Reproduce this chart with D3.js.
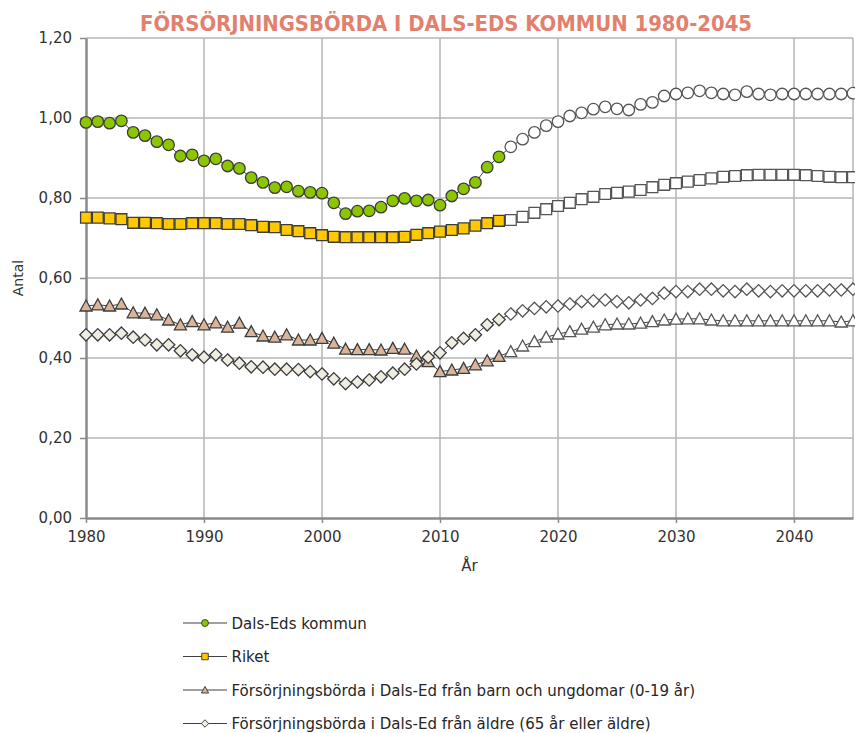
<!DOCTYPE html>
<html>
<head>
<meta charset="utf-8">
<script src="https://cdn.jsdelivr.net/npm/d3@7"></script>
<style>
  body { margin: 0; background: #fff; }
  svg { display: block; font-family: "DejaVu Sans", sans-serif; }
</style>
</head>
<body>
<div id="chart"></div>
<script>
(function () {
    // data
    var years = d3.range(1980, 2046);
    var lastObserved = 2015;

    var dalsEd = [
        0.989, 0.991, 0.987, 0.993, 0.964, 0.956, 0.941, 0.933, 0.905, 0.908,
        0.893, 0.898, 0.880, 0.874, 0.851, 0.839, 0.826, 0.828, 0.817, 0.814,
        0.812, 0.788, 0.761, 0.767, 0.768, 0.777, 0.793, 0.799, 0.793, 0.795,
        0.782, 0.805, 0.823, 0.839, 0.877, 0.903, 0.928, 0.947, 0.964, 0.981,
        0.991, 1.005, 1.013, 1.022, 1.028, 1.023, 1.020, 1.034, 1.039, 1.055,
        1.060, 1.063, 1.068, 1.063, 1.060, 1.058, 1.066, 1.060, 1.058, 1.060,
        1.060, 1.060, 1.060, 1.060, 1.060, 1.062
    ];
    var riket = [
        0.751, 0.751, 0.749, 0.747, 0.738, 0.738, 0.737, 0.735, 0.735, 0.737,
        0.737, 0.737, 0.735, 0.735, 0.732, 0.728, 0.727, 0.720, 0.717, 0.712,
        0.707, 0.703, 0.702, 0.702, 0.702, 0.702, 0.702, 0.703, 0.708, 0.712,
        0.716, 0.720, 0.724, 0.731, 0.737, 0.743, 0.745, 0.753, 0.763, 0.772,
        0.780, 0.788, 0.797, 0.803, 0.810, 0.813, 0.816, 0.820, 0.827, 0.833,
        0.837, 0.841, 0.845, 0.849, 0.853, 0.855, 0.857, 0.858, 0.858, 0.858,
        0.858, 0.857, 0.855, 0.853, 0.852, 0.852
    ];
    var barnUngdom = [
        0.530, 0.533, 0.530, 0.535, 0.513, 0.512, 0.508, 0.495, 0.483, 0.491,
        0.483, 0.488, 0.477, 0.487, 0.466, 0.455, 0.452, 0.458, 0.445, 0.445,
        0.449, 0.437, 0.422, 0.421, 0.421, 0.420, 0.424, 0.422, 0.405, 0.391,
        0.366, 0.370, 0.374, 0.383, 0.393, 0.404, 0.416, 0.430, 0.441, 0.452,
        0.460, 0.466, 0.472, 0.477, 0.483, 0.485, 0.485, 0.487, 0.491, 0.495,
        0.497, 0.498, 0.498, 0.495, 0.493, 0.493, 0.493, 0.493, 0.493, 0.493,
        0.493, 0.493, 0.493, 0.493, 0.490, 0.493
    ];
    var aldre = [
        0.458, 0.458, 0.458, 0.462, 0.452, 0.445, 0.433, 0.433, 0.418, 0.408,
        0.402, 0.408, 0.395, 0.387, 0.378, 0.377, 0.372, 0.372, 0.371, 0.366,
        0.360, 0.348, 0.336, 0.340, 0.345, 0.353, 0.362, 0.372, 0.385, 0.402,
        0.413, 0.438, 0.449, 0.458, 0.483, 0.496, 0.510, 0.518, 0.524, 0.528,
        0.530, 0.535, 0.541, 0.543, 0.545, 0.541, 0.538, 0.545, 0.549, 0.562,
        0.566, 0.566, 0.572, 0.572, 0.568, 0.566, 0.572, 0.568, 0.566, 0.568,
        0.568, 0.568, 0.568, 0.570, 0.570, 0.572
    ];

    var xTicks = [1980, 1990, 2000, 2010, 2020, 2030, 2040];
    var yTicks = [0, 0.2, 0.4, 0.6, 0.8, 1.0, 1.2];
    var seriesNames = [
        "Dals-Eds kommun",
        "Riket",
        "Försörjningsbörda i Dals-Ed från barn och ungdomar (0-19 år)",
        "Försörjningsbörda i Dals-Ed från äldre (65 år eller äldre)"
    ];

    var series = [
        { name: seriesNames[0], values: dalsEd, fill: "#8cc600", shape: "circle" },
        { name: seriesNames[1], values: riket, fill: "#ffc800", shape: "square" },
        { name: seriesNames[2], values: barnUngdom, fill: "#d9b49a", shape: "triangle" },
        { name: seriesNames[3], values: aldre, fill: "#efece2", shape: "diamond" }
    ];

    // dimensions
    var W = 855, H = 733;
    var margin = { top: 38, right: 2, bottom: 215, left: 86 },
        width = W - margin.left - margin.right,
        height = H - margin.top - margin.bottom;

    var svg = d3.select("#chart")
        .append("svg")
        .attr("width", W)
        .attr("height", H);

    var g = svg.append("g")
        .attr("transform", "translate(" + margin.left + "," + margin.top + ")");

    var x = d3.scaleLinear().domain([1980, 2045]).range([0, width]);
    var y = d3.scaleLinear().domain([0, 1.2]).range([height, 0]);

    // title
    svg.append("text")
        .attr("x", 446)
        .attr("y", 31)
        .attr("text-anchor", "middle")
        .style("font-family", "'DejaVu Sans Condensed', 'DejaVu Sans', sans-serif")
        .style("font-stretch", "condensed")
        .style("font-weight", "bold")
        .style("font-size", "21px")
        .attr("textLength", 612)
        .attr("lengthAdjust", "spacingAndGlyphs")
        .attr("fill", "#e2806e")
        .text("FÖRSÖRJNINGSBÖRDA I DALS-EDS KOMMUN 1980-2045");

    // gridlines
    g.append("g")
        .selectAll("line")
        .data(yTicks.slice(1))
        .enter().append("line")
        .attr("x1", 0).attr("x2", width)
        .attr("y1", function (d) { return y(d); })
        .attr("y2", function (d) { return y(d); })
        .attr("stroke", "#b4b4b4")
        .attr("stroke-width", 1.5);

    g.append("g")
        .selectAll("line")
        .data(xTicks.slice(1).concat([2045]))
        .enter().append("line")
        .attr("x1", function (d) { return x(d); })
        .attr("x2", function (d) { return x(d); })
        .attr("y1", 0).attr("y2", height)
        .attr("stroke", "#b4b4b4")
        .attr("stroke-width", 1.5);

    // axes
    var xAxis = g.append("g")
        .attr("transform", "translate(0," + height + ")")
        .call(d3.axisBottom(x).tickValues(xTicks).tickFormat(d3.format("d")).tickSize(5).tickSizeOuter(0).tickPadding(8));
    var yAxis = g.append("g")
        .call(d3.axisLeft(y).tickValues(yTicks)
            .tickFormat(function (d) { return d3.format(".2f")(d).replace(".", ","); })
            .tickSize(6).tickSizeOuter(0).tickPadding(8));

    [xAxis, yAxis].forEach(function (a) {
        a.select(".domain").attr("stroke", "#8a8a8a").attr("stroke-width", 2.5);
        a.selectAll(".tick line").attr("stroke", "#8a8a8a").attr("stroke-width", 1.5);
        a.selectAll(".tick text")
            .attr("fill", "#333333")
            .style("font-size", "15px")
            .style("font-family", "'DejaVu Sans', sans-serif");
    });

    // axis titles
    svg.append("text")
        .attr("x", margin.left + x(2012.5))
        .attr("y", 571)
        .attr("text-anchor", "middle")
        .attr("fill", "#333333")
        .style("font-size", "15px")
        .text("År");

    svg.append("text")
        .attr("transform", "translate(23," + (margin.top + y(0.6)) + ") rotate(-90)")
        .attr("text-anchor", "middle")
        .attr("fill", "#333333")
        .style("font-size", "14px")
        .text("Antal");

    // marker shape
    function symbolPath(shape) {
        if (shape === "circle") return d3.symbol(d3.symbolCircle, 104)();
        if (shape === "square") return d3.symbol(d3.symbolSquare, 118)();
        if (shape === "triangle") return "M0,-6L6,5L-6,5Z";
        return "M0,-6.2L6.2,0L0,6.2L-6.2,0Z";
    }

    var line = d3.line()
        .x(function (d) { return x(d.year); })
        .y(function (d) { return y(d.value); });

    series.forEach(function (s) {
        var pts = years.map(function (yr, i) { return { year: yr, value: s.values[i] }; });

        g.append("path")
            .datum(pts)
            .attr("d", line)
            .attr("fill", "none")
            .attr("stroke", "#404040")
            .attr("stroke-width", 1);

        g.selectAll(null)
            .data(pts)
            .enter().append("path")
            .attr("transform", function (d) { return "translate(" + x(d.year) + "," + y(d.value) + ")"; })
            .attr("d", symbolPath(s.shape))
            .attr("fill", function (d) { return d.year <= lastObserved ? s.fill : "#ffffff"; })
            .attr("stroke", function (d) { return d.year <= lastObserved ? "#3c3c3c" : "#555555"; })
            .attr("stroke-width", 1.3);
    });

    // legend
    var legend = svg.append("g")
        .attr("transform", "translate(183,623)");

    var rows = legend.selectAll("g")
        .data(series)
        .enter().append("g")
        .attr("transform", function (d, i) { return "translate(0," + (i * 33.5) + ")"; });

    rows.append("line")
        .attr("x1", 0).attr("x2", 44)
        .attr("y1", 0).attr("y2", 0)
        .attr("stroke", "#404040")
        .attr("stroke-width", 1.2);

    rows.append("path")
        .attr("transform", "translate(22,0) scale(0.6)")
        .attr("d", function (d) { return symbolPath(d.shape); })
        .attr("fill", function (d) { return d.fill; })
        .attr("stroke", "#3c3c3c")
        .attr("stroke-width", 1.6);

    rows.append("text")
        .attr("x", 48.5)
        .attr("y", 5.5)
        .attr("fill", "#262626")
        .style("font-size", "15px")
        .text(function (d) { return d.name; });
})();
</script>
</body>
</html>
